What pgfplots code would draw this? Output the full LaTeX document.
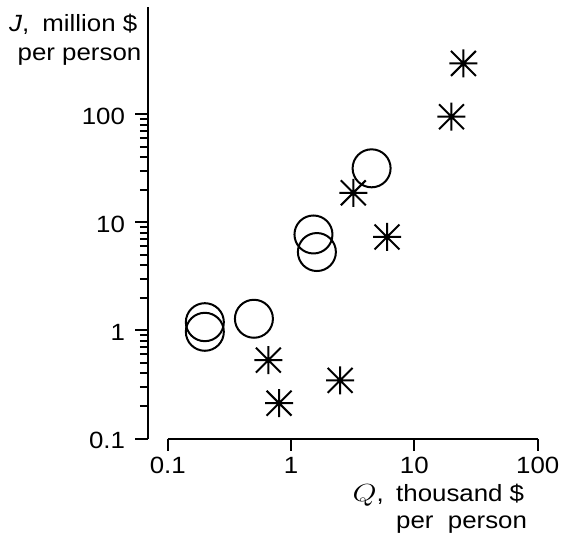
\documentclass[border=0pt]{standalone}
\usepackage{fontspec}
\setmainfont[FakeStretch=1.1]{Liberation Sans}
\usepackage{graphicx}
\usepackage{pgfplots}
\pgfplotsset{compat=1.18}

\pgfdeclareplotmark{ast8}{%
  \pgfpathmoveto{\pgfqpoint{-\pgfplotmarksize}{0pt}}%
  \pgfpathlineto{\pgfqpoint{\pgfplotmarksize}{0pt}}%
  \pgfpathmoveto{\pgfqpoint{0pt}{-\pgfplotmarksize}}%
  \pgfpathlineto{\pgfqpoint{0pt}{\pgfplotmarksize}}%
  \pgfpathmoveto{\pgfqpoint{-0.89\pgfplotmarksize}{-0.89\pgfplotmarksize}}%
  \pgfpathlineto{\pgfqpoint{0.89\pgfplotmarksize}{0.89\pgfplotmarksize}}%
  \pgfpathmoveto{\pgfqpoint{-0.89\pgfplotmarksize}{0.89\pgfplotmarksize}}%
  \pgfpathlineto{\pgfqpoint{0.89\pgfplotmarksize}{-0.89\pgfplotmarksize}}%
  \pgfusepathqstroke}

\pgfplotstableread{
x y
0.2 1.19
0.2 0.97
0.5 1.28
1.52 7.7
1.62 5.3
4.5 31.5
}\circles

\pgfplotstableread{
x y
0.655 0.53
0.80 0.212
2.5 0.345
3.2 18.7
6.0 7.3
25 294
20 94.5
}\stars

\begin{document}
\begin{tikzpicture}
\useasboundingbox (0,-540bp) rectangle (561bp,0);
\begin{axis}[
  at={(148bp,-438.5bp)}, anchor=south west,
  scale only axis, width=389.7bp, height=431.5bp,
  xmode=log, ymode=log,
  xmin=0.0692, xmax=100, ymin=0.1, ymax=977,
  axis x line=bottom, axis y line=left,
  axis line style={-, line width=2bp},
  x axis line style={shorten <=19.7bp},
  xtick={0.1,1,10,100}, xticklabels={0.1,1,10,100},
  ytick={0.1,1,10,100}, yticklabels={0.1,1,10,100},
  xminorticks=false,
  minor ytick={0.2,0.3,0.4,0.5,0.6,0.7,0.8,0.9,2,3,4,5,6,7,8,9,20,30,40,50,60,70,80,90},
  tick align=outside,
  major tick length=12.5bp, minor tick length=8bp,
  every tick/.style={black, line width=2bp},
  tick label style={font=\fontsize{23.5bp}{28bp}\selectfont},
  xticklabel style={yshift=-3bp},
  yticklabel style={xshift=-7bp, yshift=-2bp},
  clip=false,
]
\addplot[only marks, mark=o, mark size=19bp, line width=2bp, black] table[x=x,y=y]{\circles};
\addplot[only marks, mark=ast8, mark size=14bp, line width=2bp, black] table[x=x,y=y]{\stars};
\end{axis}
\begin{scope}[every node/.style={inner sep=0pt, font=\fontsize{23.5bp}{28bp}\selectfont}]
\node[anchor=base east] at (137.5bp,-31.7bp) {\textit{J},\hspace{6bp} million \$};
\node[anchor=base east] at (141.5bp,-60bp) {per person};
\node[anchor=base east] at (384bp,-501.7bp) {\scalebox{1.25}[1]{$Q$},};
\node[anchor=base west] at (396bp,-501.7bp) {thousand \$};
\node[anchor=base west] at (396bp,-528bp) {per\ \ person};
\end{scope}
\end{tikzpicture}
\end{document}
